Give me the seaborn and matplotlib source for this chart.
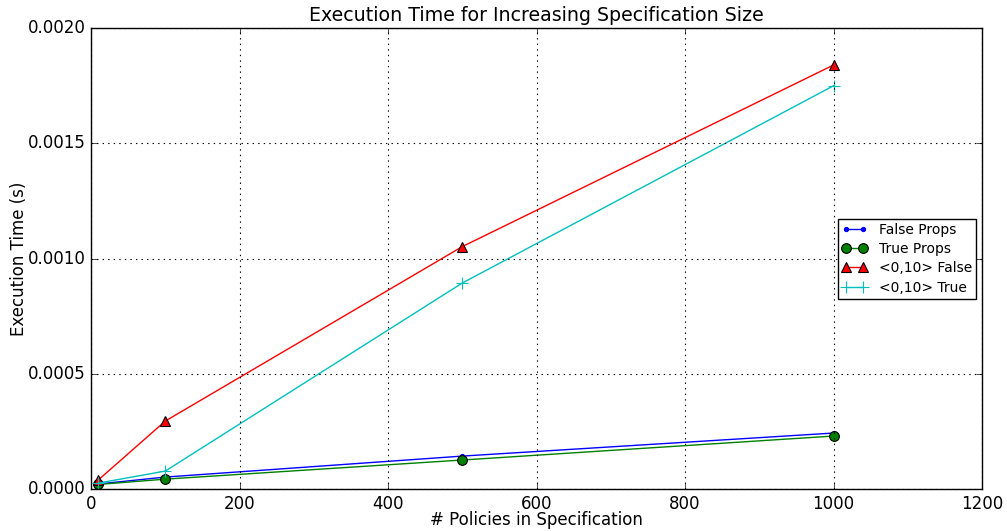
import matplotlib
matplotlib.use("Agg")
import matplotlib.pyplot as plt
import seaborn as sns
import pandas as pd

policies = [10, 100, 500, 1000]
false_props = [0.000022, 0.000052, 0.000143, 0.000243]
true_props = [0.000020, 0.000043, 0.000126, 0.000230]
false_010 = [0.000040, 0.000295, 0.001052, 0.001840]
true_010 = [0.000026, 0.000078, 0.000894, 0.001750]

plt.style.use("classic")
fig = plt.figure(figsize=(10.07, 5.31), dpi=100)
ax = fig.add_axes([0.0904, 0.079, 0.8848, 0.868])

series = [
    ("False Props", false_props, dict(color="b", marker=".", markersize=6, markeredgecolor="b")),
    ("True Props", true_props, dict(color="g", marker="o", markersize=7, markeredgecolor="k")),
    ("<0,10> False", false_010, dict(color="r", marker="^", markersize=7, markeredgecolor="k")),
    ("<0,10> True", true_010, dict(color="c", marker="+", markersize=8, markeredgecolor="c")),
]
for name, vals, kw in series:
    df = pd.DataFrame({"x": policies, "y": vals})
    sns.lineplot(data=df, x="x", y="y", ax=ax, label=name, linewidth=1,
                 markeredgewidth=0.8, **kw)

ax.set_xlim(0, 1200)
ax.set_ylim(0, 0.002)
ax.set_xticks([0, 200, 400, 600, 800, 1000, 1200])
ax.set_yticks([0, 0.0005, 0.0010, 0.0015, 0.0020])
ax.set_yticklabels(["0.0000", "0.0005", "0.0010", "0.0015", "0.0020"])
ax.grid(True, color="k", linestyle=":", linewidth=0.8)
ax.set_xlabel("# Policies in Specification", fontsize=12, labelpad=-1)
ax.set_ylabel("Execution Time (s)", fontsize=12, labelpad=0)
ax.set_title("Execution Time for Increasing Specification Size", fontsize=13.7)
ax.tick_params(labelsize=12)
leg = ax.legend(loc="center right", bbox_to_anchor=(1.001, 0.5), fontsize=10,
                numpoints=2, frameon=True, fancybox=False, borderpad=0.3,
                handlelength=1.8, handletextpad=0.85, labelspacing=0.38)
leg.get_frame().set_edgecolor("k")
fig.savefig("out.png", dpi=100)
